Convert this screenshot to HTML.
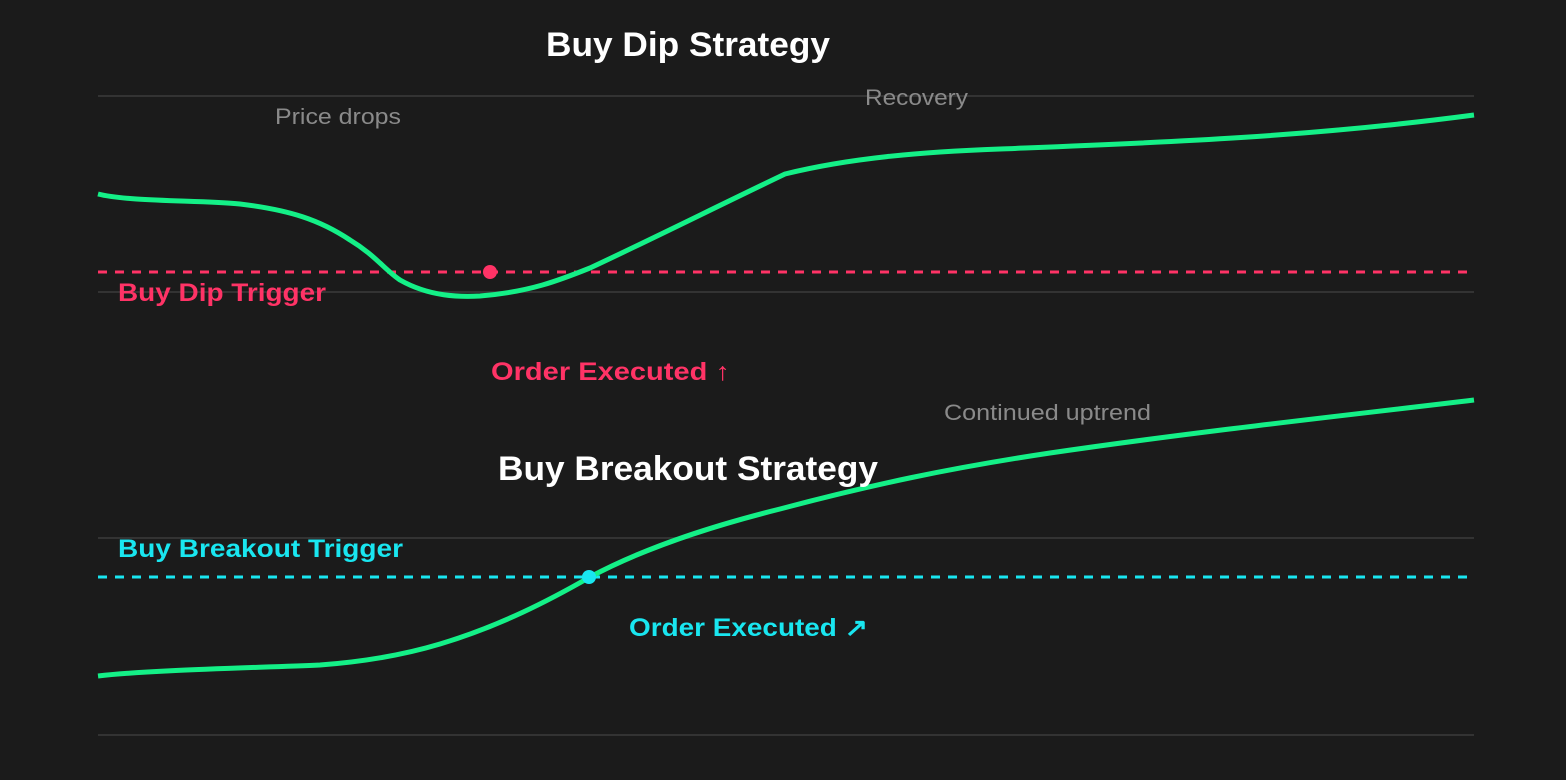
<!DOCTYPE html>
<html><head><style>
html,body{margin:0;padding:0;background:#1b1b1b;}
svg{display:block;font-family:"Liberation Sans",sans-serif;}
</style></head><body>
<svg width="1566" height="780" viewBox="0 0 1566 780">
<rect width="1566" height="780" fill="#1b1b1b"/>
<g stroke="#333" stroke-width="2">
<line x1="98" y1="96" x2="1474" y2="96"/>
<line x1="98" y1="292" x2="1474" y2="292"/>
<line x1="98" y1="538" x2="1474" y2="538"/>
<line x1="98" y1="735" x2="1474" y2="735"/>
</g>
<line x1="98" y1="272" x2="1474" y2="272" stroke="#ff3366" stroke-width="3" stroke-dasharray="9,8"/>
<line x1="98" y1="577" x2="1474" y2="577" stroke="#19e6f0" stroke-width="3" stroke-dasharray="9,8"/>
<path d="M98,194 C130,202 200,200 240,204 C290,210 320,220 350,240 C375,255 385,270 400,280 C430,297 460,297 480,296 C530,292 560,280 590,268 C650,240 720,205 785,174 C850,158 920,152 1000,149 C1150,143 1300,138 1474,115" fill="none" stroke="#14f087" stroke-width="5"/>
<path d="M98,676 C150,670 250,668 320,665 C360,662 400,656 440,644 C500,626 550,600 590,577 C650,545 720,524 780,509 C870,485 950,468 1050,453 C1200,431 1350,415 1474,400" fill="none" stroke="#14f087" stroke-width="5"/>
<circle cx="490" cy="272" r="7" fill="#ff3366"/>
<circle cx="589" cy="577" r="7" fill="#19e6f0"/>
<text x="546" y="56" fill="#fff" font-size="34" font-weight="bold" textLength="284" lengthAdjust="spacingAndGlyphs">Buy Dip Strategy</text>
<text x="498" y="480" fill="#fff" font-size="34" font-weight="bold" textLength="380" lengthAdjust="spacingAndGlyphs">Buy Breakout Strategy</text>
<text x="275" y="124" fill="#8a8a8a" font-size="22" textLength="126" lengthAdjust="spacingAndGlyphs">Price drops</text>
<text x="865" y="105" fill="#8a8a8a" font-size="22" textLength="103" lengthAdjust="spacingAndGlyphs">Recovery</text>
<text x="944" y="420" fill="#8a8a8a" font-size="22" textLength="207" lengthAdjust="spacingAndGlyphs">Continued uptrend</text>
<text x="118" y="301" fill="#ff3366" font-size="25" font-weight="bold" textLength="208" lengthAdjust="spacingAndGlyphs">Buy Dip Trigger</text>
<text x="491" y="380" fill="#ff3366" font-size="25" font-weight="bold" textLength="239" lengthAdjust="spacingAndGlyphs">Order Executed ↑</text>
<text x="118" y="557" fill="#19e6f0" font-size="25" font-weight="bold" textLength="285" lengthAdjust="spacingAndGlyphs">Buy Breakout Trigger</text>
<text x="629" y="636" fill="#19e6f0" font-size="25" font-weight="bold" textLength="239" lengthAdjust="spacingAndGlyphs">Order Executed ↗</text>
</svg>
</body></html>
